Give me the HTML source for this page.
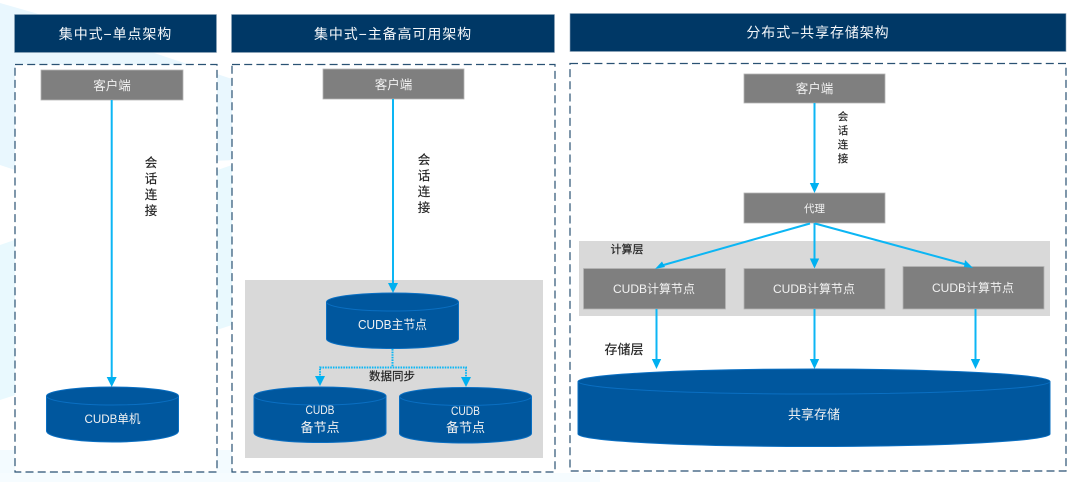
<!DOCTYPE html>
<html><head><meta charset="utf-8"><style>
html,body{margin:0;padding:0;background:#fff}
svg{display:block}
text{font-family:"Liberation Sans","Noto Sans CJK SC",sans-serif;text-anchor:middle}
.h{fill:#f4f7fa;font-size:14px;letter-spacing:.9px}
.w{fill:#f2f2f2;font-size:12.5px}
.k{fill:#222;font-size:12.5px;stroke:#222;stroke-width:.15}
.hd{fill:#003866;stroke:#8fa6ba;stroke-width:.6}
.dash{fill:#fff;stroke:#2a5273;stroke-width:1.2;stroke-dasharray:8 4.2}
.g{fill:#7f7f7f;stroke:#b5b5b5;stroke-width:.8}
.p{fill:#d9d9d9}
.ln{stroke:#0cb6f4;stroke-width:2;fill:none}
.dot{stroke:#0cb6f4;stroke-width:2;fill:none;stroke-dasharray:1.6 1}
.a{fill:#00b0f0}
.c{fill:#00579e;stroke:#0a6fc2;stroke-width:1}
</style></head><body>
<svg width="1080" height="482" viewBox="0 0 1080 482" xmlns="http://www.w3.org/2000/svg">
<rect width="1080" height="482" fill="#fff"/>
<polygon points="0,3 35,13 235,80 235,160 15,170 0,165" fill="#e9f7fe"/>
<polygon points="0,245 232,165 232,325 0,400" fill="#e9f9fe"/>
<rect x="0" y="450" width="235" height="32" fill="#f3fbff"/>
<rect x="0" y="473" width="600" height="9" fill="#f6fcff"/>

<rect class="hd" x="14.5" y="14.5" width="202" height="38"/>
<rect class="hd" x="231.5" y="14.5" width="323" height="38"/>
<rect class="hd" x="570" y="13.5" width="496" height="38"/>
<text class="h" x="115.500" y="39">集中式−单点架构</text>
<text class="h" x="393" y="39">集中式−主备高可用架构</text>
<text class="h" x="818" y="37.500">分布式−共享存储架构</text>

<rect class="dash" x="15" y="64.500" width="202" height="407.500"/>
<rect class="dash" x="232" y="64.500" width="323" height="407.500"/>
<rect class="dash" x="570" y="63.500" width="496" height="407.500"/>

<rect class="p" x="245" y="280" width="298" height="178"/>
<rect class="p" x="579" y="241" width="471" height="75"/>

<rect class="g" x="41" y="70" width="142" height="30"/>
<rect class="g" x="323" y="69" width="141" height="30"/>
<rect class="g" x="744" y="74" width="141" height="29"/>
<rect class="g" x="744" y="193" width="141" height="30"/>
<rect class="g" x="583.500" y="268.500" width="142" height="40.500"/>
<rect class="g" x="744" y="268.500" width="141" height="40.500"/>
<rect class="g" x="903" y="266.500" width="141" height="42.500"/>
<text class="w" x="112" y="90">客户端</text>
<text class="w" x="393.500" y="89">客户端</text>
<text class="w" x="814.500" y="93">客户端</text>
<text class="w" x="814.500" y="212" style="font-size:10.500px">代理</text>
<text class="w" x="654" y="293" style="font-size:12px">CUDB计算节点</text>
<text class="w" x="814" y="293" style="font-size:12px">CUDB计算节点</text>
<text class="w" x="973" y="292" style="font-size:12px">CUDB计算节点</text>

<line class="ln" x1="111.700" y1="100" x2="111.700" y2="380"/><polygon class="a" points="106.700,377 116.700,377 111.700,387"/>
<line class="ln" x1="393" y1="99" x2="393" y2="286"/><polygon class="a" points="388,283 398,283 393,293"/>
<line class="ln" x1="814.500" y1="103" x2="814.500" y2="186"/><polygon class="a" points="809.800,183 819.200,183 814.500,193"/>
<line class="ln" x1="814.500" y1="223" x2="814.500" y2="262"/><polygon class="a" points="809.800,258.500 819.200,258.500 814.500,268.500"/>
<line class="ln" x1="810" y1="223.500" x2="660" y2="266"/><polygon class="a" points="655,269 662,261.500 665,267"/>
<line class="ln" x1="815" y1="223.500" x2="968" y2="265"/><polygon class="a" points="973,268 965,260 964,267"/>
<line class="ln" x1="656.500" y1="309" x2="656.500" y2="362"/><polygon class="a" points="651.800,359 661.200,359 656.500,369"/>
<line class="ln" x1="814.500" y1="309" x2="814.500" y2="362"/><polygon class="a" points="809.800,359 819.200,359 814.500,369"/>
<line class="ln" x1="975.500" y1="309" x2="975.500" y2="362"/><polygon class="a" points="970.800,359 980.200,359 975.500,369"/>
<path class="dot" d="M392.500,349 V367 M320,378 V367.500 H466 V379"/>
<polygon class="a" points="315,376 325,376 320,386"/>
<polygon class="a" points="461,377 471,377 466,387"/>

<path class="c" d="M46.500,396 A66,9 0 0 1 178.500,396 V431 A66,11 0 0 1 46.500,431Z"/>
<path d="M46.500,396 A66,9 0 0 0 178.500,396" fill="none" stroke="#0a6fc2"/>
<text class="w" x="112.500" y="423" style="font-size:12px" textLength="56" lengthAdjust="spacingAndGlyphs">CUDB单机</text>

<path class="c" d="M326.500,302 A66,9 0 0 1 458.500,302 V339 A66,9.500 0 0 1 326.500,339Z"/>
<path d="M326.500,302 A66,9 0 0 0 458.500,302" fill="none" stroke="#0a6fc2"/>
<text class="w" x="392.500" y="329" style="font-size:12.500px" textLength="69" lengthAdjust="spacingAndGlyphs">CUDB主节点</text>

<path class="c" d="M254,396 A66,9 0 0 1 386,396 V433 A66,9.500 0 0 1 254,433Z"/>
<path d="M254,396 A66,9 0 0 0 386,396" fill="none" stroke="#0a6fc2"/>
<text class="w" x="320" y="414" style="font-size:12px" textLength="29" lengthAdjust="spacingAndGlyphs">CUDB</text>
<text class="w" x="320" y="432" style="font-size:13px">备节点</text>

<path class="c" d="M399.500,396.500 A66,9 0 0 1 531.500,396.500 V433.500 A66,9.500 0 0 1 399.500,433.500Z"/>
<path d="M399.500,396.500 A66,9 0 0 0 531.500,396.500" fill="none" stroke="#0a6fc2"/>
<text class="w" x="465.500" y="415" style="font-size:12px" textLength="29" lengthAdjust="spacingAndGlyphs">CUDB</text>
<text class="w" x="465.500" y="432" style="font-size:13px">备节点</text>

<path class="c" d="M578,381.500 A236,12.500 0 0 1 1050,381.500 V434 A236,12.500 0 0 1 578,434Z"/>
<path d="M578,381.500 A236,12.500 0 0 0 1050,381.500" fill="none" stroke="#0a6fc2"/>
<text class="w" x="814" y="419" style="font-size:13px">共享存储</text>

<text class="k" x="151" y="167">会</text>
<text class="k" x="151" y="183">话</text>
<text class="k" x="151" y="199">连</text>
<text class="k" x="151" y="215">接</text>
<text class="k" x="424" y="164">会</text>
<text class="k" x="424" y="180">话</text>
<text class="k" x="424" y="196">连</text>
<text class="k" x="424" y="212">接</text>
<text class="k" x="843" y="120" style="font-size:10.500px">会</text>
<text class="k" x="843" y="134" style="font-size:10.500px">话</text>
<text class="k" x="843" y="148" style="font-size:10.500px">连</text>
<text class="k" x="843" y="162" style="font-size:10.500px">接</text>
<text class="k" x="392" y="380" style="font-size:11.500px">数据同步</text>
<text class="k" x="627" y="253" style="font-size:11px">计算层</text>
<text class="k" x="624" y="354" style="font-size:13px">存储层</text>
</svg>
</body></html>
